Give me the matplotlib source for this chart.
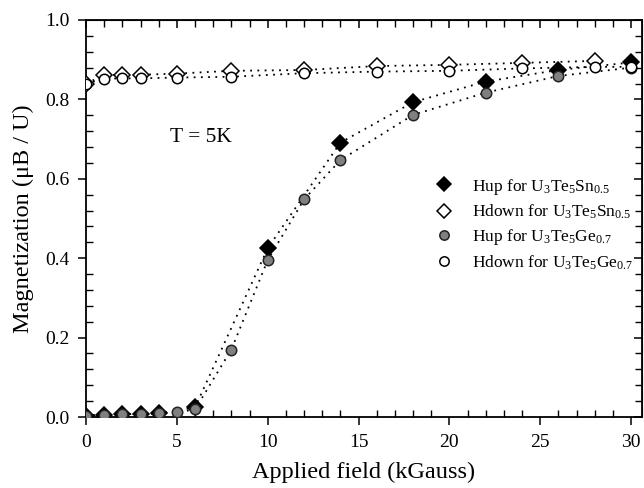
import matplotlib
matplotlib.use("Agg")
import matplotlib.pyplot as plt
from matplotlib.ticker import MultipleLocator

plt.rcParams['font.family'] = ['Liberation Serif', 'DejaVu Serif']
plt.rcParams['mathtext.fontset'] = 'custom'
plt.rcParams['mathtext.rm'] = 'Liberation Serif'
plt.rcParams['mathtext.it'] = 'Liberation Serif:italic'

# Hup for U3Te5Sn0.5
x_sn_up = [0, 1, 2, 3, 4, 6, 10, 14, 18, 22, 26, 30]
y_sn_up = [0.003, 0.006, 0.007, 0.008, 0.009, 0.024, 0.425, 0.691, 0.793, 0.845, 0.874, 0.893]
# Hup for U3Te5Ge0.7
x_ge_up = [0, 1, 2, 3, 4, 5, 6, 8, 10, 12, 14, 18, 22, 26, 30]
y_ge_up = [0.003, 0.006, 0.007, 0.008, 0.009, 0.012, 0.019, 0.17, 0.395, 0.548, 0.647, 0.761, 0.817, 0.859, 0.88]
# Hdown for U3Te5Sn0.5
x_sn_dn = [0, 1, 2, 3, 5, 8, 12, 16, 20, 24, 28]
y_sn_dn = [0.84, 0.861, 0.862, 0.862, 0.865, 0.872, 0.874, 0.884, 0.887, 0.892, 0.897]
# Hdown for U3Te5Ge0.7
x_ge_dn = [0, 1, 2, 3, 5, 8, 12, 16, 20, 24, 28, 30]
y_ge_dn = [0.84, 0.852, 0.853, 0.853, 0.855, 0.857, 0.866, 0.870, 0.872, 0.878, 0.882, 0.882]

labels = ["Hup for U$_3$Te$_5$Sn$_{0.5}$",
          "Hdown for U$_3$Te$_5$Sn$_{0.5}$",
          "Hup for U$_3$Te$_5$Ge$_{0.7}$",
          "Hdown for U$_3$Te$_5$Ge$_{0.7}$"]

fig = plt.figure(figsize=(6.44, 4.88), dpi=100)
ax = fig.add_axes([86/644, 71/488, 556/644, 397/488])

ls = (0, (1, 3))
lw = 1.3
ax.plot(x_sn_up, y_sn_up, color='black', ls=ls, lw=lw, zorder=1)
ax.plot(x_ge_up, y_ge_up, color='black', ls=ls, lw=lw, zorder=1)
ax.plot(x_sn_dn, y_sn_dn, color='black', ls=ls, lw=lw, zorder=1)
ax.plot(x_ge_dn, y_ge_dn, color='black', ls=ls, lw=lw, zorder=1)

h1, = ax.plot(x_sn_up, y_sn_up, 'D', ms=8, mfc='black', mec='black', mew=1.1, ls='none', zorder=3, label=labels[0])
h3, = ax.plot(x_ge_up, y_ge_up, 'o', ms=7.5, mfc='#808080', mec='#222222', mew=1.1, ls='none', zorder=4, label=labels[2])
h2, = ax.plot(x_sn_dn, y_sn_dn, 'D', ms=8, mfc='white', mec='black', mew=1.1, ls='none', zorder=5, label=labels[1])
h4, = ax.plot(x_ge_dn, y_ge_dn, 'o', ms=7.5, mfc='white', mec='black', mew=1.1, ls='none', zorder=6, label=labels[3])

ax.set_xlim(0, 30.6)
ax.set_ylim(0, 1.0)
ax.xaxis.set_major_locator(MultipleLocator(5))
ax.xaxis.set_minor_locator(MultipleLocator(1))
ax.yaxis.set_major_locator(MultipleLocator(0.2))
ax.yaxis.set_minor_locator(MultipleLocator(0.04))
ax.yaxis.set_major_formatter(matplotlib.ticker.FormatStrFormatter('%.1f'))

for sp in ax.spines.values():
    sp.set_linewidth(1.3)

ax.tick_params(which='major', direction='out', length=6, width=1.1, labelsize=14, pad=6)
ax.tick_params(which='minor', direction='in', length=5, width=1.0)
ax.tick_params(axis='both', which='both', top=False, right=False)

# top and right inward ticks
secx = ax.secondary_xaxis('top')
secx.xaxis.set_major_locator(MultipleLocator(5))
secx.xaxis.set_minor_locator(MultipleLocator(1))
secx.tick_params(which='major', direction='in', length=6, width=1.1, labeltop=False)
secx.tick_params(which='minor', direction='in', length=5, width=1.0)
secy = ax.secondary_yaxis('right')
secy.yaxis.set_major_locator(MultipleLocator(0.2))
secy.yaxis.set_minor_locator(MultipleLocator(0.04))
secy.tick_params(which='major', direction='in', length=6, width=1.1, labelright=False)
secy.tick_params(which='minor', direction='in', length=5, width=1.0)

ax.set_xlabel("Applied field (kGauss)", fontsize=17.5, labelpad=8)
ax.set_ylabel("Magnetization (\u03bcB / U)", fontsize=17.5, labelpad=8)

ax.text(6.3, 0.703, "T = 5K", fontsize=15.5, ha='center', va='center')

leg = ax.legend(handles=[h1, h2, h3, h4], loc='upper left',
                bbox_to_anchor=(0.6, 0.645), frameon=False, fontsize=12.5,
                handlelength=1.0, handletextpad=1.1, labelspacing=0.35,
                markerscale=0.9)

fig.savefig("out.png", dpi=100)
